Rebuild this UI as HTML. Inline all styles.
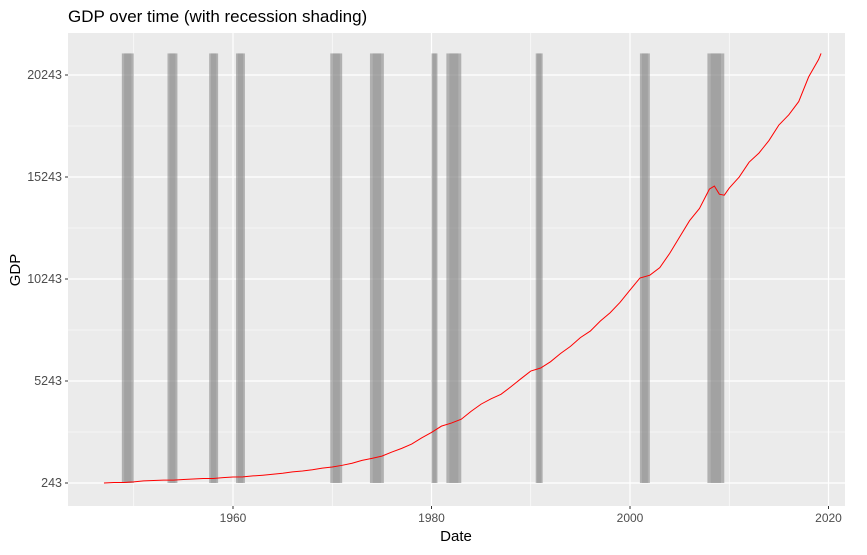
<!DOCTYPE html>
<html><head><meta charset="utf-8"><style>
body{margin:0;background:#fff;font-family:"Liberation Sans",sans-serif}
</style></head><body>
<svg width="867" height="550" id="c">
<text x="68" y="22" font-size="17" fill="#000">GDP over time (with recession shading)</text>
<rect x="68" y="33" width="777" height="473" fill="#ebebeb"/>
<g id="grid"></g><g id="rec"></g><g id="line"></g><g id="axes"></g>
<text x="456" y="541" font-size="15" text-anchor="middle">Date</text>
<text transform="translate(20,270) rotate(-90)" font-size="15" text-anchor="middle">GDP</text>
</svg>
<script>
const years=[1947,1948,1949,1950,1951,1952,1953,1954,1955,1956,1957,1958,1959,1960,1961,1962,1963,1964,1965,1966,1967,1968,1969,1970,1971,1972,1973,1974,1975,1976,1977,1978,1979,1980,1981,1982,1983,1984,1985,1986,1987,1988,1989,1990,1991,1992,1993,1994,1995,1996,1997,1998,1999,2000,2001,2002,2003,2004,2005,2006,2007,2008,2008.5,2009,2009.5,2010,2011,2012,2013,2014,2015,2016,2017,2018,2019,2019.25];
const gdp=[243,265,270,300,345,365,385,385,415,440,465,465,505,540,545,590,625,670,720,790,830,890,970,1030,1110,1210,1350,1450,1560,1760,1940,2150,2450,2720,3030,3180,3370,3760,4110,4370,4590,4960,5350,5730,5880,6190,6590,6940,7370,7690,8180,8590,9100,9700,10290,10430,10800,11500,12300,13100,13700,14650,14800,14400,14350,14700,15240,15970,16420,17030,17790,18290,18940,20150,21000,21300];
const recStart=[1948.8,1953.4,1957.6,1960.3,1969.8,1973.8,1980.0,1981.5,1990.5,2001.0,2007.8];
const recEnd=[1950.0,1954.4,1958.5,1961.2,1971.0,1975.2,1980.6,1983.0,1991.2,2002.0,2009.5];
const xTicks=[1960,1980,2000,2020];
const yTicks=[243,5243,10243,15243,20243];
const ns="http://www.w3.org/2000/svg";
const X=v=>233+(v-1960)*198.5/20;
const Y=v=>483-(v-243)*102/5000;
function mk(t,a,p){const e=document.createElementNS(ns,t);for(const k in a)e.setAttribute(k,a[k]);p.appendChild(e);return e;}
const grid=document.getElementById('grid');
[1950,1970,1990,2010].forEach(v=>{const l=mk('line',{x1:X(v),x2:X(v),y1:33,y2:506,stroke:'#fff','stroke-width':0.6},grid);

});
for(let i=0;i<yTicks.length-1;i++){const v=(yTicks[i]+yTicks[i+1])/2;const l=mk('line',{x1:68,x2:845,y1:Y(v),y2:Y(v),stroke:'#fff','stroke-width':0.6},grid);

}
const ax=document.getElementById('axes');
xTicks.forEach(v=>{const l=mk('line',{x1:X(v),x2:X(v),y1:33,y2:506,stroke:'#fff','stroke-width':1.2},grid);


mk('line',{x1:X(v),x2:X(v),y1:506,y2:509,stroke:'#333'},ax);
const t=mk('text',{x:X(v),y:522,'font-size':12,fill:'#4d4d4d','text-anchor':'middle'},ax);t.textContent=v;

});
yTicks.forEach(v=>{const l=mk('line',{x1:68,x2:845,y1:Y(v),y2:Y(v),stroke:'#fff','stroke-width':1.2},grid);


mk('line',{x1:65,x2:68,y1:Y(v),y2:Y(v),stroke:'#333'},ax);
const t=mk('text',{x:62,y:Y(v)+4,'font-size':12.5,fill:'#4d4d4d','text-anchor':'end'},ax);t.textContent=v;

});
const rec=document.getElementById('rec');
const maxGdp=Math.max(...gdp);
recStart.forEach((s,i)=>{const e=recEnd[i];
const r=mk('rect',{x:X(s),y:Y(maxGdp),width:X(e)-X(s),height:Y(243)-Y(maxGdp),fill:'#7f7f7f','fill-opacity':0.55},rec);


const w=X(e)-X(s);
mk('rect',{x:X(s)+w*0.2,y:Y(maxGdp),width:w*0.6,height:Y(243)-Y(maxGdp),fill:'#777','fill-opacity':0.25},rec);});
const p=mk('polyline',{points:years.map((y,i)=>X(y)+','+Y(gdp[i])).join(' '),fill:'none',stroke:'#ff0000','stroke-width':1},document.getElementById('line'));


</script>
</body></html>
